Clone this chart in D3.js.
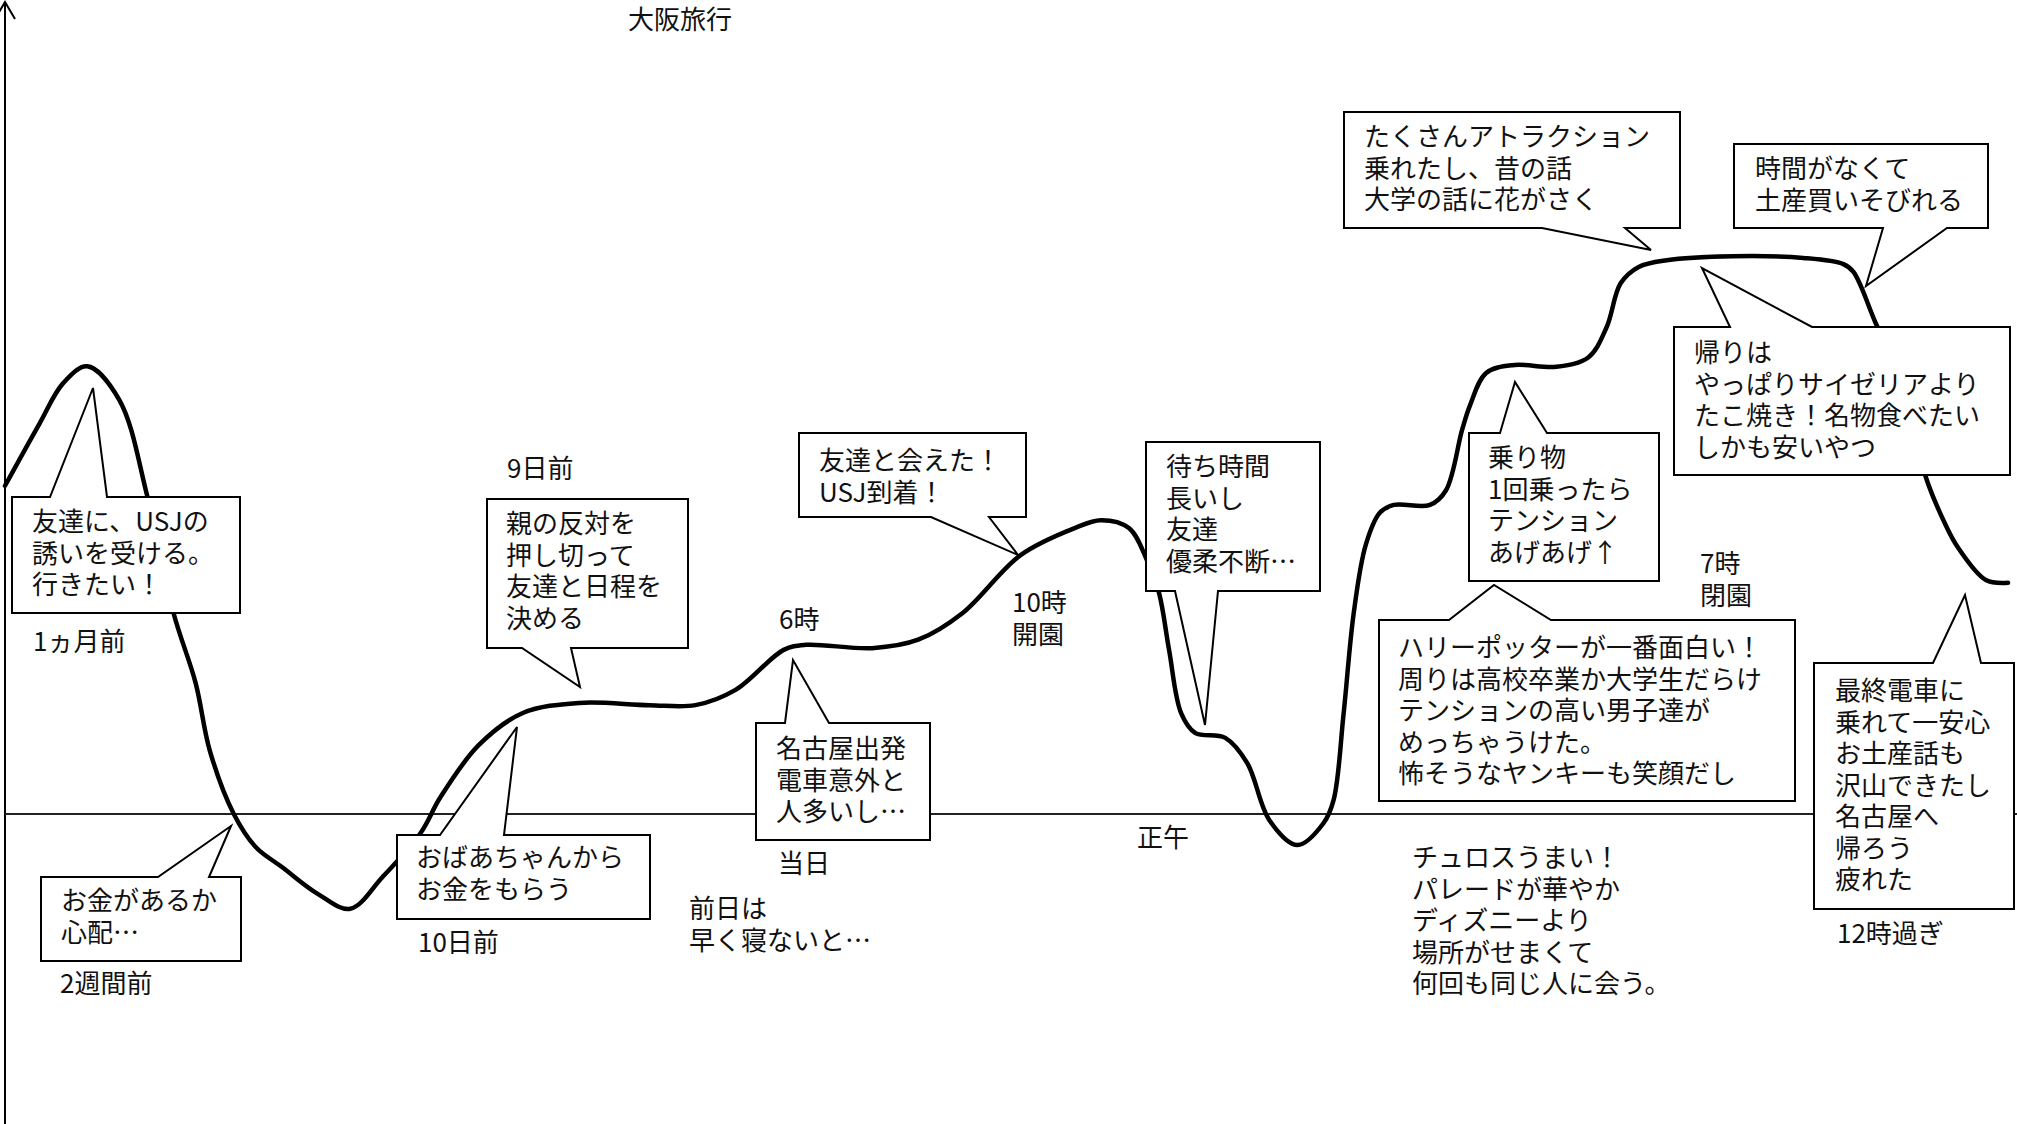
<!DOCTYPE html>
<html><head><meta charset="utf-8">
<script src="https://cdn.jsdelivr.net/npm/d3@7"></script>
<style>
body{margin:0;background:#fff;}
svg{display:block;}
text{font-family:"Noto Sans CJK JP","Noto Sans",sans-serif;font-size:26px;fill:#111;}
</style>
</head><body>
<svg id="c" width="2017" height="1124"></svg>
<script>
// ---------- data ----------
const title = "大阪旅行";
// time progress (0..1000) and mood value (0 = neutral line)
const curveT = [0,17,29,41,57,71,84,95,102,114,125,138,156,172,188,207,217,236,258,286,321,344,364,388,399,432,455,477,506,533,546,560,569,575,580,586,593,608,619,630,644,657,662,667,672,678,685,692,710,718,726,730,738,752,773,789,798,805,814,828,861,896,916,921,932,946,957,967,973,987,998];
const curveMood = [58.2,69.1,76.4,79.4,73.4,56.2,35.6,23.2,11.3,0,-5.9,-9.4,-14.2,-16.8,-11.2,-3.4,3.0,12.2,17.9,19.7,19.3,19.3,22.0,29.1,30.0,29.4,30.9,35.6,45.9,50.7,52.1,50.7,45.0,39.2,29.1,17.9,14.4,13.5,9.0,-1.1,-5.5,-1.6,2.5,17.9,35.6,47.7,53.4,54.8,54.8,57.4,68.1,72.5,78.2,79.6,79.3,81.0,86.3,94.1,97.0,98.2,98.9,98.6,97.5,96.1,87.1,75.9,59.8,51.2,47.3,41.5,41.0];

const calloutTexts = [
  ["友達に、USJの","誘いを受ける。","行きたい！"],
  ["お金があるか","心配…"],
  ["おばあちゃんから","お金をもらう"],
  ["親の反対を","押し切って","友達と日程を","決める"],
  ["名古屋出発","電車意外と","人多いし…"],
  ["友達と会えた！","USJ到着！"],
  ["待ち時間","長いし","友達","優柔不断…"],
  ["乗り物","1回乗ったら","テンション","あげあげ↑"],
  ["ハリーポッターが一番面白い！","周りは高校卒業か大学生だらけ","テンションの高い男子達が","めっちゃうけた。","怖そうなヤンキーも笑顔だし"],
  ["最終電車に","乗れて一安心","お土産話も","沢山できたし","名古屋へ","帰ろう","疲れた"],
  ["たくさんアトラクション","乗れたし、昔の話","大学の話に花がさく"],
  ["時間がなくて","土産買いそびれる"],
  ["帰りは","やっぱりサイゼリアより","たこ焼き！名物食べたい","しかも安いやつ"]
];
const labelTexts = [
  ["1ヵ月前"],["2週間前"],["10日前"],["9日前"],["前日は","早く寝ないと…"],["当日"],["6時"],
  ["10時","開園"],["正午"],["7時","閉園"],
  ["チュロスうまい！","パレードが華やか","ディズニーより","場所がせまくて","何回も同じ人に会う。"],
  ["12時過ぎ"]
];

// ---------- layout (pixels) ----------
const W = 2017, H = 1124;
const calloutLayout = [
  {x:12,  y:497, w:228, h:116, tx:32,   ty:521, side:"top",    b:[50,107],   apex:[93,388]},
  {x:41,  y:877, w:200, h:84,  tx:61,   ty:900, side:"top",    b:[158,209],  apex:[231,826]},
  {x:397, y:835, w:253, h:84,  tx:416,  ty:857, side:"top",    b:[440,504],  apex:[517,727]},
  {x:487, y:499, w:201, h:149, tx:506,  ty:523, side:"bottom", b:[522,571],  apex:[580,687]},
  {x:756, y:723, w:174, h:117, tx:776,  ty:748, side:"top",    b:[785,829],  apex:[793,660]},
  {x:799, y:433, w:227, h:84,  tx:819,  ty:460, side:"bottom", b:[931,989],  apex:[1018,555]},
  {x:1146,y:442, w:174, h:149, tx:1166, ty:466, side:"bottom", b:[1175,1218],apex:[1205,725]},
  {x:1469,y:433, w:190, h:148, tx:1488, ty:457, side:"top",    b:[1500,1547],apex:[1515,382]},
  {x:1379,y:620, w:416, h:181, tx:1398, ty:647, side:"top",    b:[1449,1551],apex:[1494,585]},
  {x:1814,y:663, w:200, h:246, tx:1835, ty:690, side:"top",    b:[1933,1981],apex:[1965,595]},
  {x:1344,y:112, w:336, h:116, tx:1364, ty:136, side:"bottom", b:[1542,1625],apex:[1651,250]},
  {x:1734,y:144, w:254, h:84,  tx:1755, ty:168, side:"bottom", b:[1883,1947],apex:[1866,286]},
  {x:1674,y:327, w:336, h:148, tx:1694, ty:352, side:"top",    b:[1730,1812],apex:[1702,268]}
];
const lineGap = 31.5;
const labelLayout = [
  [33,641],[60,983],[418,942],[507,468],[689,908],[778,863],[779,619],
  [1012,602],[1137,837],[1700,563],[1412,857],[1837,933]
];

// ---------- scales ----------
const x = d3.scaleLinear().domain([0,1000]).range([5, 2012]);
const y = d3.scaleLinear().domain([-100,100]).range([814+564, 814-564]);

const svg = d3.select("#c");
svg.append("rect").attr("width",W).attr("height",H).attr("fill","#fff");

// axes
svg.append("line").attr("x1",5).attr("x2",5).attr("y1",H).attr("y2",2)
  .attr("stroke","#000").attr("stroke-width",2);
svg.append("path").attr("d","M-5,19 L5,2 L15,19").attr("fill","none").attr("stroke","#000").attr("stroke-width",2);
svg.append("line").attr("x1",5).attr("x2",W).attr("y1",y(0)).attr("y2",y(0))
  .attr("stroke","#222").attr("stroke-width",2);

// title
svg.append("text").attr("x",628).attr("y",29).text(title);

// curve
const pts = curveT.map((t,i)=>[x(t), y(curveMood[i])]);
svg.append("path").datum(pts)
  .attr("d", d3.line().curve(d3.curveCatmullRom.alpha(0.5)))
  .attr("fill","none").attr("stroke","#000").attr("stroke-width",4.5)
  .attr("stroke-linejoin","round").attr("stroke-linecap","round");

// labels
labelTexts.forEach((lines,i)=>{
  const [lx,ly] = labelLayout[i];
  const t = svg.append("text").attr("x",lx).attr("y",ly+10);
  lines.forEach((s,j)=> t.append("tspan").attr("x",lx).attr("y",ly+10+j*lineGap).text(s));
});

// callouts
calloutTexts.forEach((lines,i)=>{
  const L = calloutLayout[i];
  let d;
  if (L.side==="top") {
    d = `M${L.x},${L.y} L${L.b[0]},${L.y} L${L.apex[0]},${L.apex[1]} L${L.b[1]},${L.y} L${L.x+L.w},${L.y} L${L.x+L.w},${L.y+L.h} L${L.x},${L.y+L.h} Z`;
  } else {
    d = `M${L.x},${L.y} L${L.x+L.w},${L.y} L${L.x+L.w},${L.y+L.h} L${L.b[1]},${L.y+L.h} L${L.apex[0]},${L.apex[1]} L${L.b[0]},${L.y+L.h} L${L.x},${L.y+L.h} Z`;
  }
  svg.append("path").attr("d",d).attr("fill","#fff").attr("stroke","#000").attr("stroke-width",2).attr("stroke-linejoin","miter");
  const t = svg.append("text");
  lines.forEach((s,j)=> t.append("tspan").attr("x",L.tx).attr("y",L.ty+10+j*lineGap).text(s));
});
</script>
</body></html>
